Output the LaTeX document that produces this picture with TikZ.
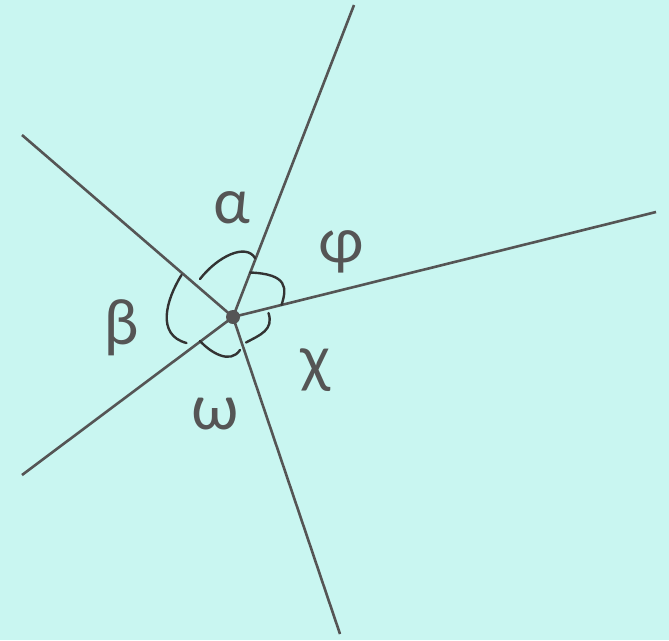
\documentclass[tikz,border=0pt]{standalone}
\usepackage{fontspec}
\setmainfont{Lato}
\definecolor{bgc}{HTML}{C9F6F1}
\definecolor{linec}{HTML}{555555}
\definecolor{arcc}{HTML}{333333}
\begin{document}
\begin{tikzpicture}[x=1pt,y=-1pt,
  ray/.style={draw=linec,line width=2.6pt},
  anglemark/.style={draw=arcc,line width=2.4pt,line cap=round},
  lbl/.style={text=linec,font=\fontsize{62}{66}\selectfont,inner sep=0pt}]
\fill[bgc] (0,0) rectangle (669,640);
\useasboundingbox (0,0) rectangle (669,640);
\coordinate (O) at (233,317);
\coordinate (E1) at (354,5);
\coordinate (E2) at (656,212);
\coordinate (E3) at (22,135);
\coordinate (E4) at (22,475);
\coordinate (E5) at (340,634);
\foreach \e in {E1,E2,E3,E4,E5} \draw[ray] (O) -- (\e);
% angle marks
\draw[anglemark] (200,279) .. controls (218,256) and (246,243) .. (255,258);
\draw[anglemark] (181.5,275) .. controls (166,300) and (156,335) .. (186.5,343);
\draw[anglemark] (200,341) .. controls (210,352) and (230,365) .. (240,350);
\draw[anglemark] (246,342.5) .. controls (260,335) and (274,330) .. (268.5,313);
\draw[anglemark] (281.5,305) .. controls (287,288) and (288,274) .. (250,272.5);
\fill[linec] (O) circle[radius=7pt];
\node[lbl] (la) at (232,208) {α};
\node[lbl] (lf) at (341,252) {φ};
\node[lbl] (lb) at (122,328) {β};
\node[lbl] (lc) at (315,370) {χ};
\node[lbl] (lw) at (215,414) {ω};
\end{tikzpicture}
\end{document}
